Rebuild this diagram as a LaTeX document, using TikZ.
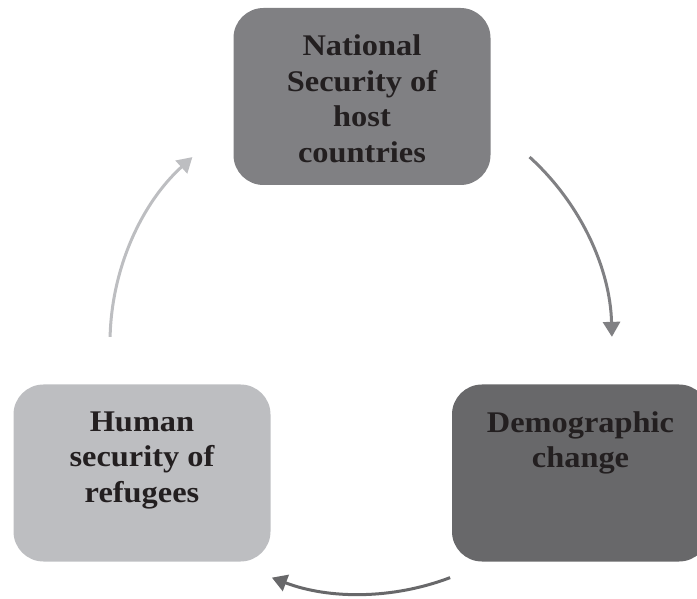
\documentclass[tikz,border=0pt]{standalone}
\usepackage{fontspec}
\setmainfont{Liberation Serif}[FakeStretch=1.08]
\usetikzlibrary{arrows.meta,calc}

\definecolor{ink}{HTML}{231F20}
\definecolor{midgray}{HTML}{808083}
\definecolor{darkgray}{HTML}{68686A}
\definecolor{lightgray}{HTML}{BDBEC1}

% text block of a cycle box: centred lines, hanging from the top
\newcommand\cyclelabel[1]{%
  \parbox[c][177pt][t]{257pt}{\centering\vspace*{27pt}#1}}

\begin{document}
\begin{tikzpicture}[x=1pt,y=1pt,
  box/.style={rounded corners=30pt, inner sep=0pt,
    minimum width=257pt, minimum height=177pt, text=ink,
    font=\bfseries\fontsize{30}{35.5}\selectfont},
  cyc/.style={line width=3pt, -{Triangle[width=17pt,length=15pt]}}]
\useasboundingbox (0,0) rectangle (697,598);

% the three stages
\node[box, fill=midgray] (nat) at (362,501.5)
  {\cyclelabel{National\\Security of\\host\\countries}};
\node[box, fill=darkgray] (dem) at (580.5,125)
  {\cyclelabel{Demographic\\change}};
\node[box, fill=lightgray] (hum) at (142,125)
  {\cyclelabel{Human\\security of\\refugees}};

% arcs of the cycle, all on one circle
\coordinate (ctr) at (361,255);
\coordinate (a1) at ($(ctr)+(47.8:251pt)$);
\coordinate (a2) at ($(ctr)+(-69.2:251pt)$);
\coordinate (a3) at ($(ctr)+(178.6:251pt)$);

\draw[cyc, draw=midgray] (a1) arc[start angle=47.8, end angle=1.4, radius=251pt];
\draw[cyc, draw=darkgray] (a2) arc[start angle=-69.2, end angle=-110.8, radius=251pt];
\draw[cyc, draw=lightgray] (a3) arc[start angle=178.6, end angle=132.2, radius=251pt];
\end{tikzpicture}
\end{document}
